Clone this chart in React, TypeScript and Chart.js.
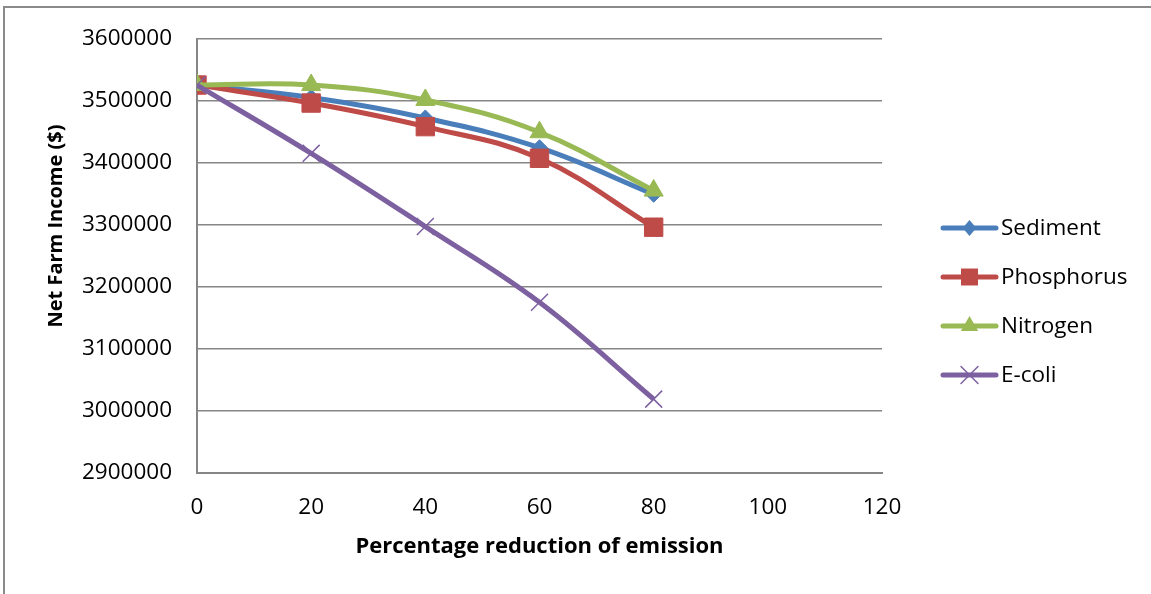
import React, { useEffect, useRef } from "react";
import { Chart, registerables } from "chart.js";

Chart.register(...registerables);

const xValues = [0, 20, 40, 60, 80];
const sediment = [3525000, 3505000, 3472000, 3424000, 3349000];
const phosphorus = [3525000, 3496000, 3458000, 3407000, 3296000];
const nitrogen = [3525000, 3525000, 3501000, 3449000, 3355000];
const ecoli = [3525000, 3415000, 3297000, 3175000, 3019000];
const seriesNames = ["Sediment", "Phosphorus", "Nitrogen", "E-coli"];
const xTitle = "Percentage reduction of emission";
const yTitle = "Net Farm Income ($)";

const FONT = "'Open Sans', 'DejaVu Sans', sans-serif";

const colors = ["#4A7EBB", "#BE4B48", "#98B954", "#7D60A0"];
const pointStyles = ["rectRot", "rect", "triangle", "crossRot"];
const pointRadii = [8, 13, 11, 12];

export default function App() {
  const ref = useRef<HTMLCanvasElement | null>(null);

  useEffect(() => {
    const canvas = ref.current;
    if (!canvas) return;
    const seriesData = [sediment, phosphorus, nitrogen, ecoli];

    function drawMarker(ctx: CanvasRenderingContext2D, style: string, r: number, x: number, y: number, color: string) {
      ctx.save();
      ctx.fillStyle = color;
      ctx.strokeStyle = color;
      ctx.lineWidth = 1.5;
      ctx.beginPath();
      if (style === "rectRot") {
        ctx.moveTo(x, y - r);
        ctx.lineTo(x + r * 0.85, y);
        ctx.lineTo(x, y + r);
        ctx.lineTo(x - r * 0.85, y);
        ctx.closePath();
        ctx.fill();
      } else if (style === "rect") {
        const s = r * Math.SQRT1_2;
        ctx.rect(x - s, y - s, 2 * s, 2 * s);
        ctx.fill();
      } else if (style === "triangle") {
        const a = (2 * Math.PI) / 3;
        ctx.moveTo(x, y - r);
        ctx.lineTo(x + Math.sin(a) * r, y - Math.cos(a) * r);
        ctx.lineTo(x + Math.sin(2 * a) * r, y - Math.cos(2 * a) * r);
        ctx.closePath();
        ctx.fill();
      } else {
        const d = r * Math.SQRT1_2;
        ctx.moveTo(x - d, y - d);
        ctx.lineTo(x + d, y + d);
        ctx.moveTo(x + d, y - d);
        ctx.lineTo(x - d, y + d);
        ctx.stroke();
      }
      ctx.restore();
    }

    const decor = {
      id: "decor",
      beforeDraw(chart: any) {
        const ctx = chart.ctx;
        ctx.save();
        ctx.fillStyle = "#ffffff";
        ctx.fillRect(0, 0, chart.width, chart.height);
        ctx.strokeStyle = "#8a8a8a";
        ctx.lineWidth = 2;
        ctx.strokeRect(4, 7, 1300, 800);
        ctx.restore();
      },
      afterDraw(chart: any) {
        const ctx = chart.ctx;
        const area = chart.chartArea;
        ctx.save();
        ctx.fillStyle = "#000000";
        ctx.font = `bold 22px ${FONT}`;
        ctx.textAlign = "center";
        ctx.textBaseline = "middle";
        ctx.fillText(xTitle, (area.left + area.right) / 2, 547);
        ctx.save();
        ctx.translate(56, 226);
        ctx.rotate(-Math.PI / 2);
        ctx.font = `bold 20px ${FONT}`;
        ctx.fillText(yTitle, 0, 0);
        ctx.restore();
        const legendY = [228, 277, 326, 375];
        seriesNames.forEach((name, i) => {
          const y = legendY[i];
          ctx.strokeStyle = colors[i];
          ctx.lineWidth = 5;
          ctx.lineCap = "round";
          ctx.beginPath();
          ctx.moveTo(943, y);
          ctx.lineTo(996, y);
          ctx.stroke();
          const styleR = [8, 12, 10, 12][i];
          drawMarker(ctx, pointStyles[i], styleR, 969.5, y, colors[i]);
          ctx.fillStyle = "#000000";
          ctx.font = `22.5px ${FONT}`;
          ctx.textAlign = "left";
          ctx.textBaseline = "middle";
          ctx.fillText(name, 1001, y + 1);
        });
        ctx.restore();
      },
    };

    const chart = new Chart(canvas, {
      type: "line",
      data: {
        datasets: seriesNames.map((name, i) => ({
          label: name,
          data: xValues.map((x, j) => ({ x, y: seriesData[i][j] })),
          borderColor: colors[i],
          backgroundColor: colors[i],
          borderWidth: 5,
          tension: 0.4,
          pointStyle: pointStyles[i] as any,
          pointRadius: pointRadii[i],
          pointHoverRadius: pointRadii[i],
          pointBorderColor: colors[i],
          pointBackgroundColor: colors[i],
          pointBorderWidth: i === 3 ? 1.5 : 1,
          order: 4 - i,
          fill: false,
        })),
      },
      options: {
        responsive: false,
        animation: false,
        events: [],
        layout: { padding: { left: 0, top: 37, right: 269, bottom: 0 } },
        plugins: {
          legend: { display: false },
          tooltip: { enabled: false },
          title: { display: false },
        },
        scales: {
          x: {
            type: "linear",
            min: 0,
            max: 120,
            ticks: {
              stepSize: 20,
              padding: 21,
              color: "#000000",
              font: { family: FONT, size: 22.5 },
            },
            grid: { display: false, drawTicks: false },
            border: { display: true, color: "#868686", width: 2 },
            afterFit: (scale: any) => {
              scale.height = 594 - 473;
            },
          },
          y: {
            type: "linear",
            min: 2900000,
            max: 3600000,
            ticks: {
              stepSize: 100000,
              padding: 25,
              color: "#000000",
              font: { family: FONT, size: 22.5 },
              callback: (v: any) => String(v),
            },
            grid: { color: "#868686", lineWidth: 1.5, drawTicks: false },
            border: { display: true, color: "#868686", width: 2 },
            afterFit: (scale: any) => {
              scale.width = 197;
            },
          },
        },
      },
      plugins: [decor],
    });

    return () => chart.destroy();
  }, []);

  return (
    <div style={{ position: "absolute", left: 0, top: 0, width: 1151, height: 594 }}>
      <canvas ref={ref} width={1151} height={594} style={{ display: "block" }} />
    </div>
  );
}
